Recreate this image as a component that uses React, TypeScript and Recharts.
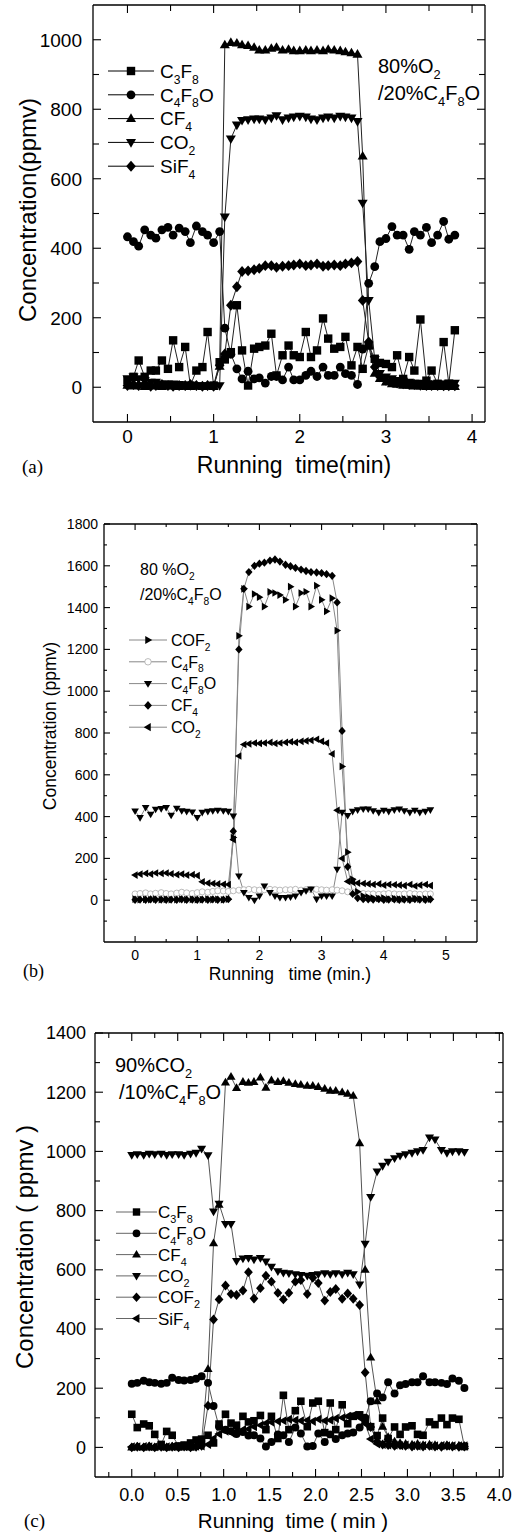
import React from 'react';
import { LineChart, Line, XAxis, YAxis, ReferenceLine } from 'recharts';

const FONT = '"Liberation Sans", Arial, Helvetica, sans-serif';
const SERIF = '"Liberation Serif", "Times New Roman", serif';

// ---- panel (a): 80%O2 / 20%C4F8O ----
const timeA = [0, 0.07, 0.13, 0.2, 0.27, 0.33, 0.4, 0.47, 0.53, 0.6, 0.67, 0.73, 0.8, 0.87, 0.93,
  1.0, 1.07, 1.13, 1.2, 1.27, 1.33, 1.4, 1.47, 1.53, 1.6, 1.67, 1.73, 1.8, 1.87, 1.93,
  2.0, 2.07, 2.13, 2.2, 2.27, 2.33, 2.4, 2.47, 2.53, 2.6, 2.67, 2.73, 2.8, 2.87, 2.93,
  3.0, 3.07, 3.13, 3.2, 3.27, 3.33, 3.4, 3.47, 3.53, 3.6, 3.67, 3.73, 3.8];
const c3f8A = [20, 30, 77, 30, 48, 48, 77, 53, 135, 58, 116, 5, 48, 58, 159, 5, 72, 80, 101, 236,
  106, 5, 111, 116, 120, 154, 34, 92, 120, 92, 87, 159, 87, 106, 198, 140, 111, 116, 145, 63,
  116, 53, 120, 82, 70, 67, 58, 92, 24, 87, 48, 195, 19, 48, 10, 130, 10, 164];
const c4f8oA = [433, 419, 406, 453, 438, 429, 453, 460, 438, 458, 448, 416, 464, 448, 438, 416, 448, 170, 95, 53,
  24, 46, 24, 27, 12, 31, 31, 21, 58, 21, 21, 34, 46, 31, 58, 34, 34, 58, 39, 34,
  8, 110, 299, 347, 419, 428, 462, 438, 438, 397, 448, 438, 460, 416, 438, 477, 426, 438];
const cf4A = [5, 3, 8, 2, 5, 3, 2, 4, 3, 2, 3, 2, 4, 2, 3, 2, 60, 985, 992, 990,
  985, 983, 978, 970, 970, 975, 978, 970, 972, 968, 968, 970, 968, 970, 968, 972, 970, 968, 965, 962,
  958, 665, 120, 40, 25, 15, 10, 8, 5, 5, 3, 3, 2, 2, 2, 2, 2, 2];
const co2A = [25, 30, 25, 20, 15, 15, 10, 10, 10, 8, 5, 5, 5, 5, 5, 5, 5, 490, 715, 755,
  768, 770, 772, 772, 770, 775, 782, 770, 775, 778, 780, 778, 772, 770, 775, 778, 775, 780, 778, 775,
  765, 530, 250, 80, 40, 30, 25, 20, 18, 15, 12, 12, 10, 10, 10, 10, 12, 12];
const sif4A = [5, 8, 5, 10, 3, 5, 8, 5, 3, 5, 5, 8, 5, 3, 5, 3, 63, 96, 236, 289,
  333, 335, 338, 342, 350, 350, 345, 348, 350, 352, 355, 350, 352, 355, 348, 350, 352, 350, 355, 358,
  362, 250, 130, 58, 30, 20, 15, 12, 10, 8, 8, 6, 5, 5, 5, 4, 4, 4];

// ---- panel (b): 80%O2 / 20%C4F8O ----
const timeB = [0, 0.08, 0.17, 0.25, 0.33, 0.42, 0.5, 0.58, 0.67, 0.75, 0.83, 0.92,
  1.0, 1.08, 1.17, 1.25, 1.33, 1.42, 1.5, 1.58, 1.67, 1.75, 1.83, 1.92,
  2.0, 2.08, 2.17, 2.25, 2.33, 2.42, 2.5, 2.58, 2.67, 2.75, 2.83, 2.92,
  3.0, 3.08, 3.17, 3.25, 3.33, 3.42, 3.5, 3.58, 3.67, 3.75, 3.83, 3.92,
  4.0, 4.08, 4.17, 4.25, 4.33, 4.42, 4.5, 4.58, 4.67, 4.75];
const cof2B = [5, 3, 4, 2, 5, 3, 4, 2, 3, 5, 3, 4, 2, 3, 5, 3, 4, 2, 5, 300,
  1265, 1490, 1405, 1465, 1450, 1405, 1475, 1470, 1460, 1437, 1500, 1405, 1470, 1476, 1405, 1505, 1437, 1382, 1445, 1290,
  640, 230, 100, 40, 20, 15, 10, 8, 10, 5, 8, 5, 6, 5, 8, 5, 6, 5];
const c4f8B = [30, 32, 35, 30, 33, 36, 32, 30, 34, 38, 35, 32, 36, 40, 38, 42, 45, 44, 42, 45,
  48, 50, 52, 50, 48, 50, 52, 50, 48, 50, 50, 52, 48, 50, 50, 52, 50, 48, 50, 48,
  45, 40, 38, 35, 32, 30, 30, 28, 30, 32, 30, 28, 30, 32, 30, 28, 30, 30];
const c4f8oB = [427, 395, 443, 411, 435, 438, 443, 406, 440, 428, 425, 422, 396, 420, 425, 428, 430, 428, 425, 403,
  116, 37, 13, 0, 20, 68, 37, 20, 13, 13, 15, 20, 37, 45, 53, 5, 20, 20, 20, 148,
  420, 405, 425, 432, 436, 436, 428, 420, 430, 425, 432, 436, 428, 420, 430, 420, 425, 432];
const cf4B = [2, 3, 2, 4, 2, 3, 2, 3, 2, 4, 2, 3, 2, 3, 2, 4, 2, 3, 5, 330,
  1200, 1490, 1570, 1600, 1610, 1615, 1625, 1630, 1620, 1605, 1598, 1590, 1582, 1575, 1570, 1568, 1565, 1560, 1552, 1425,
  810, 160, 30, 10, 5, 4, 3, 5, 2, 3, 4, 2, 3, 2, 5, 3, 2, 4];
const co2B = [120, 125, 128, 125, 130, 128, 130, 126, 122, 125, 120, 122, 118, 88, 82, 80, 78, 76, 75, 290,
  690, 745, 748, 752, 750, 752, 755, 750, 752, 755, 758, 755, 760, 762, 765, 770, 760, 752, 700, 430,
  200, 90, 85, 82, 80, 78, 75, 78, 72, 75, 74, 72, 70, 75, 68, 72, 75, 70];

// ---- panel (c): 90%CO2 / 10%C4F8O ----
const timeC = [0, 0.06, 0.13, 0.19, 0.25, 0.32, 0.38, 0.44, 0.51, 0.57, 0.64, 0.7, 0.76, 0.83, 0.89,
  0.95, 1.02, 1.08, 1.14, 1.21, 1.27, 1.33, 1.4, 1.46, 1.52, 1.59, 1.65, 1.71, 1.78, 1.84,
  1.91, 1.97, 2.03, 2.1, 2.16, 2.22, 2.29, 2.35, 2.41, 2.48, 2.54, 2.6, 2.67, 2.73, 2.79,
  2.86, 2.92, 2.98, 3.05, 3.11, 3.17, 3.24, 3.3, 3.37, 3.43, 3.49, 3.56, 3.62];
const c3f8C = [112, 67, 79, 73, 44, 10, 54, 41, 5, 8, 15, 25, 28, 41, 15, 79, 112, 82, 75, 105,
  86, 90, 108, 60, 105, 30, 176, 60, 124, 156, 70, 150, 156, 50, 150, 60, 144, 80, 105, 110,
  95, 70, 40, 99, 30, 69, 44, 69, 73, 44, 41, 86, 77, 99, 77, 99, 95, 3];
const c4f8oC = [215, 218, 225, 220, 218, 215, 218, 235, 228, 226, 228, 232, 240, 218, 140, 70, 60, 55, 45, 52,
  40, 41, 30, 3, 18, 44, 41, 18, 67, 47, 3, 5, 47, 18, 44, 28, 41, 47, 50, 67,
  100, 156, 182, 169, 220, 182, 210, 214, 220, 220, 240, 220, 220, 218, 214, 233, 225, 201];
const cf4C = [0, 2, 0, 3, 0, 2, 0, 3, 0, 2, 0, 5, 20, 265, 690, 820, 1233, 1252, 1214, 1235,
  1232, 1235, 1250, 1215, 1240, 1235, 1238, 1232, 1228, 1225, 1222, 1222, 1218, 1212, 1205, 1205, 1200, 1195, 1188, 1028,
  600, 304, 156, 70, 35, 20, 15, 12, 10, 12, 8, 10, 8, 5, 8, 5, 6, 5];
const co2C = [988, 990, 988, 992, 990, 992, 988, 990, 990, 988, 992, 995, 1009, 987, 797, 823, 755, 755, 630, 638,
  640, 635, 640, 628, 610, 595, 590, 588, 585, 582, 580, 582, 585, 588, 585, 588, 585, 590, 585, 550,
  688, 846, 932, 951, 965, 977, 985, 990, 995, 1000, 1005, 1047, 1040, 1005, 995, 1000, 1000, 998];
const cof2C = [0, 2, 0, 3, 0, 2, 0, 2, 0, 3, 0, 2, 5, 141, 432, 500, 547, 518, 515, 530,
  592, 503, 538, 580, 560, 522, 500, 522, 560, 565, 518, 573, 555, 496, 525, 535, 502, 520, 502, 481,
  253, 69, 20, 10, 8, 5, 8, 5, 3, 5, 3, 5, 3, 2, 5, 3, 2, 3];
const sif4C = [2, 2, 3, 2, 2, 3, 2, 2, 3, 2, 3, 4, 5, 10, 30, 45, 55, 50, 55, 60,
  62, 70, 75, 82, 85, 88, 90, 95, 92, 90, 92, 88, 95, 90, 92, 98, 100, 105, 108, 100,
  80, 28, 12, 10, 8, 8, 6, 8, 6, 5, 6, 5, 5, 6, 5, 5, 5, 5];

// axis ticks
const xTicksA = [0, 0.5, 1, 1.5, 2, 2.5, 3, 3.5, 4];
const yTicksA = [0, 100, 200, 300, 400, 500, 600, 700, 800, 900, 1000];
const xTicksB = [0, 0.5, 1, 1.5, 2, 2.5, 3, 3.5, 4, 4.5, 5];
const yTicksB = [-100, 0, 100, 200, 300, 400, 500, 600, 700, 800, 900, 1000, 1100, 1200, 1300, 1400, 1500, 1600, 1700, 1800];
const xTicksC = [-0.25, 0, 0.25, 0.5, 0.75, 1, 1.25, 1.5, 1.75, 2, 2.25, 2.5, 2.75, 3, 3.25, 3.5, 3.75, 4];
const yTicksC = [0, 100, 200, 300, 400, 500, 600, 700, 800, 900, 1000, 1100, 1200, 1300, 1400];

type Shape = 'square' | 'circle' | 'up' | 'down' | 'diamond' | 'right' | 'left' | 'open';

function Marker({ shape, x, y, r }: { shape: Shape; x: number; y: number; r: number }) {
  const pts = (a: number[][]) => a.map(([dx, dy]) => `${x + dx * r},${y + dy * r}`).join(' ');
  switch (shape) {
    case 'square':
      return <rect x={x - r} y={y - r} width={2 * r} height={2 * r} fill="#000" />;
    case 'circle':
      return <circle cx={x} cy={y} r={r * 1.05} fill="#000" />;
    case 'open':
      return <circle cx={x} cy={y} r={r * 0.95} fill="#fff" stroke="#aaa" strokeWidth={0.8} />;
    case 'up':
      return <polygon points={pts([[0, -1.25], [1.2, 0.8], [-1.2, 0.8]])} fill="#000" />;
    case 'down':
      return <polygon points={pts([[0, 1.25], [1.2, -0.8], [-1.2, -0.8]])} fill="#000" />;
    case 'right':
      return <polygon points={pts([[1.25, 0], [-0.8, -1.2], [-0.8, 1.2]])} fill="#000" />;
    case 'left':
      return <polygon points={pts([[-1.25, 0], [0.8, -1.2], [0.8, 1.2]])} fill="#000" />;
    default:
      return <polygon points={pts([[0, -1.3], [1.15, 0], [0, 1.3], [-1.15, 0]])} fill="#000" />;
  }
}

const dotFor = (shape: Shape, r: number) => (p: any) => {
  if (p.cx == null || p.cy == null) return <g key={p.index} />;
  return <g key={p.index}><Marker shape={shape} x={p.cx} y={p.cy} r={r} /></g>;
};

const isStep = (v: number, step: number) => Math.abs(v / step - Math.round(v / step)) < 1e-6;

// inward tick marks on both opposite sides of the frame (long on major values), plus label
const xTickFor = (bottom: number, top: number, major: number, long: number, short: number,
  fontSize: number, gap: number, label: (v: number) => string) => (t: any) => {
  const v = t.payload.value as number;
  const len = isStep(v, major) ? long : short;
  const c = t.x as number;
  const txt = label(v);
  return (
    <g>
      <line x1={c} x2={c} y1={bottom} y2={bottom - len} stroke="#000" strokeWidth={1.1} />
      <line x1={c} x2={c} y1={top} y2={top + len} stroke="#000" strokeWidth={1.1} />
      {txt !== '' && (
        <text x={c} y={bottom + gap} dy="0.71em" textAnchor="middle" fontSize={fontSize} fontFamily={FONT} fill="#000">{txt}</text>
      )}
    </g>
  );
};

const yTickFor = (left: number, right: number, major: number, long: number, short: number,
  fontSize: number, gap: number, label: (v: number) => string) => (t: any) => {
  const v = t.payload.value as number;
  const len = isStep(v, major) ? long : short;
  const c = t.y as number;
  const txt = label(v);
  return (
    <g>
      <line x1={left} x2={left + len} y1={c} y2={c} stroke="#000" strokeWidth={1.1} />
      <line x1={right} x2={right - len} y1={c} y2={c} stroke="#000" strokeWidth={1.1} />
      {txt !== '' && (
        <text x={left - gap} y={c} dy="0.36em" textAnchor="end" fontSize={fontSize} fontFamily={FONT} fill="#000">{txt}</text>
      )}
    </g>
  );
};

interface Series { key: string; values: number[]; shape: Shape; stroke: string }

interface PanelProps {
  top: number; plotTop: number; plotBottom: number; plotLeft: number; plotRight: number;
  times: number[]; series: Series[]; r: number;
  xDomain: [number, number]; xTicks: number[]; xMajor: number; xLabel: (v: number) => string;
  yDomain: [number, number]; yTicks: number[]; yMajor: number; yLabel: (v: number) => string;
  fontSize: number; tickLong: number; tickShort: number; xGap: number; yGap: number;
}

function Panel(p: PanelProps) {
  const data = p.times.map((t, i) => {
    const row: Record<string, number> = { t };
    p.series.forEach((s) => { row[s.key] = s.values[i]; });
    return row;
  });
  const height = p.plotBottom - p.top + 40;
  const pt = p.plotTop - p.top;
  const pb = p.plotBottom - p.top;
  const line = { stroke: '#000', strokeWidth: 1.3 };
  return (
    <div style={{ position: 'absolute', left: 0, top: p.top }}>
      <LineChart width={528} height={height} data={data}
        margin={{ top: pt, right: 528 - p.plotRight, bottom: 0, left: 0 }}>
        <XAxis xAxisId="b" dataKey="t" type="number" domain={p.xDomain} allowDataOverflow ticks={p.xTicks}
          interval={0} tickSize={0} tickLine={false} height={40} axisLine={line}
          tick={xTickFor(pb, pt, p.xMajor, p.tickLong, p.tickShort, p.fontSize, p.xGap, p.xLabel)} />
        <YAxis yAxisId="l" type="number" domain={p.yDomain} allowDataOverflow ticks={p.yTicks} interval={0}
          tickSize={0} tickLine={false} width={p.plotLeft} axisLine={line}
          tick={yTickFor(p.plotLeft, p.plotRight, p.yMajor, p.tickLong, p.tickShort, p.fontSize, p.yGap, p.yLabel)} />
        <ReferenceLine xAxisId="b" yAxisId="l" y={p.yDomain[1]} stroke="#000" strokeWidth={1.3} ifOverflow="visible" />
        <ReferenceLine xAxisId="b" yAxisId="l" x={p.xDomain[1]} stroke="#000" strokeWidth={1.3} ifOverflow="visible" />
        {p.series.map((s) => (
          <Line key={s.key} xAxisId="b" yAxisId="l" type="linear" dataKey={s.key} stroke={s.stroke}
            strokeWidth={1} dot={dotFor(s.shape, p.r)} activeDot={false} isAnimationActive={false} />
        ))}
      </LineChart>
    </div>
  );
}

// text with "_n" subscripts
function Chem({ text, x, y, size, anchor = 'start', transform, family = FONT }:
  { text: string; x: number; y: number; size: number; anchor?: string; transform?: string; family?: string }) {
  const parts = text.split(/(_\d+)/).filter(Boolean);
  const sh = size * 0.3;
  let down = false;
  return (
    <text x={x} y={y} fontSize={size} textAnchor={anchor as any} transform={transform} fontFamily={family}
      fill="#000" style={{ whiteSpace: 'pre' }}>
      {parts.map((pt, i) => {
        if (pt.startsWith('_')) {
          const el = <tspan key={i} dy={down ? 0 : sh} fontSize={size * 0.64}>{pt.slice(1)}</tspan>;
          down = true;
          return el;
        }
        const el = <tspan key={i} dy={down ? -sh : 0}>{pt}</tspan>;
        down = false;
        return el;
      })}
    </text>
  );
}

function LegendBlock({ items, x1, x2, xText, y0, dy, size, stroke, r }:
  { items: [string, Shape][]; x1: number; x2: number; xText: number; y0: number; dy: number; size: number; stroke: string; r: number }) {
  return (
    <g>
      {items.map(([label, shape], i) => {
        const y = y0 + i * dy;
        return (
          <g key={label}>
            <line x1={x1} x2={x2} y1={y} y2={y} stroke={stroke} strokeWidth={1} />
            <Marker shape={shape} x={(x1 + x2) / 2} y={y} r={r} />
            <Chem text={label} x={xText} y={y + size * 0.36} size={size} />
          </g>
        );
      })}
    </g>
  );
}

const intLabel = (v: number) => (isStep(v, 1) ? String(v) : '');
const y200 = (v: number) => (isStep(v, 200) && v >= 0 ? String(v) : '');
const halfLabel = (v: number) => (isStep(v, 0.5) && v >= 0 ? v.toFixed(1) : '');

export default function App() {
  return (
    <div style={{ position: 'absolute', left: 0, top: 0, width: 528, height: 1536, background: '#fff' }}>
      <Panel top={0} plotTop={5} plotBottom={422} plotLeft={93} plotRight={485}
        times={timeA} r={4.2}
        series={[
          { key: 'c3f8', values: c3f8A, shape: 'square', stroke: '#222' },
          { key: 'c4f8o', values: c4f8oA, shape: 'circle', stroke: '#222' },
          { key: 'cf4', values: cf4A, shape: 'up', stroke: '#222' },
          { key: 'co2', values: co2A, shape: 'down', stroke: '#222' },
          { key: 'sif4', values: sif4A, shape: 'diamond', stroke: '#222' },
        ]}
        xDomain={[-0.4, 4.15]} xTicks={xTicksA} xMajor={1} xLabel={intLabel}
        yDomain={[-100, 1100]} yTicks={yTicksA} yMajor={200} yLabel={y200}
        fontSize={19} tickLong={8} tickShort={6} xGap={8} yGap={11} />
      <Panel top={500} plotTop={524} plotBottom={942} plotLeft={104} plotRight={477}
        times={timeB} r={3.2}
        series={[
          { key: 'c4f8', values: c4f8B, shape: 'open', stroke: '#ccc' },
          { key: 'c4f8o', values: c4f8oB, shape: 'down', stroke: '#888' },
          { key: 'co2', values: co2B, shape: 'left', stroke: '#888' },
          { key: 'cf4', values: cf4B, shape: 'diamond', stroke: '#888' },
          { key: 'cof2', values: cof2B, shape: 'right', stroke: '#888' },
        ]}
        xDomain={[-0.5, 5.5]} xTicks={xTicksB} xMajor={1} xLabel={intLabel}
        yDomain={[-200, 1800]} yTicks={yTicksB} yMajor={200} yLabel={y200}
        fontSize={14} tickLong={6} tickShort={3} xGap={8} yGap={6} />
      <Panel top={1000} plotTop={1033} plotBottom={1477} plotLeft={95} plotRight={503}
        times={timeC} r={3.8}
        series={[
          { key: 'c3f8', values: c3f8C, shape: 'square', stroke: '#555' },
          { key: 'c4f8o', values: c4f8oC, shape: 'circle', stroke: '#555' },
          { key: 'sif4', values: sif4C, shape: 'left', stroke: '#555' },
          { key: 'cof2', values: cof2C, shape: 'diamond', stroke: '#555' },
          { key: 'co2', values: co2C, shape: 'down', stroke: '#555' },
          { key: 'cf4', values: cf4C, shape: 'up', stroke: '#555' },
        ]}
        xDomain={[-0.4, 4.04]} xTicks={xTicksC} xMajor={0.5} xLabel={halfLabel}
        yDomain={[-100, 1400]} yTicks={yTicksC} yMajor={200} yLabel={y200}
        fontSize={18} tickLong={8} tickShort={5} xGap={11} yGap={9} />

      <svg width={528} height={1536} style={{ position: 'absolute', left: 0, top: 0, pointerEvents: 'none' }}>
        {/* panel (a) */}
        <LegendBlock items={[['C_3F_8', 'square'], ['C_4F_8O', 'circle'], ['CF_4', 'up'], ['CO_2', 'down'], ['SiF_4', 'diamond']]}
          x1={108} x2={154} xText={160} y0={71} dy={23.8} size={19} stroke="#000" r={4.2} />
        <Chem text="80%O_2" x={378} y={73} size={20} />
        <Chem text="/20%C_4F_8O" x={378} y={100} size={20} />
        <Chem text="Concentration(ppmv)" x={0} y={0} size={24} anchor="middle" transform="translate(36,210) rotate(-90)" />
        <Chem text="Running  time(min)" x={294} y={473} size={23} anchor="middle" />
        <Chem text="(a)" x={22} y={473} size={19} family={SERIF} />

        {/* panel (b) */}
        <LegendBlock items={[['COF_2', 'right'], ['C_4F_8', 'open'], ['C_4F_8O', 'down'], ['CF_4', 'diamond'], ['CO_2', 'left']]}
          x1={129} x2={167} xText={171} y0={640} dy={21.8} size={16} stroke="#888" r={3.4} />
        <Chem text="80 %O_2" x={140} y={575} size={16} />
        <Chem text="/20%C_4F_8O" x={140} y={600} size={16} />
        <Chem text="Concentration (ppmv)" x={0} y={0} size={17.5} anchor="middle" transform="translate(56,726) rotate(-90)" />
        <Chem text="Running   time (min.)" x={290} y={980} size={17.5} anchor="middle" />
        <Chem text="(b)" x={23} y={977} size={18} family={SERIF} />

        {/* panel (c) */}
        <LegendBlock items={[['C_3F_8', 'square'], ['C_4F_8O', 'circle'], ['CF_4', 'up'], ['CO_2', 'down'], ['COF_2', 'diamond'], ['SiF_4', 'left']]}
          x1={116} x2={157} xText={158} y0={1212} dy={21.3} size={17} stroke="#666" r={3.7} />
        <Chem text="90%CO_2" x={115} y={1072} size={20} />
        <Chem text="/10%C_4F_8O" x={119} y={1099} size={20} />
        <Chem text="Concentration ( ppmv )" x={0} y={0} size={24} anchor="middle" transform="translate(33,1247) rotate(-90)" />
        <Chem text="Running  time ( min )" x={293} y={1528} size={20.5} anchor="middle" />
        <Chem text="(c)" x={24} y={1527} size={19} family={SERIF} />
      </svg>
    </div>
  );
}
